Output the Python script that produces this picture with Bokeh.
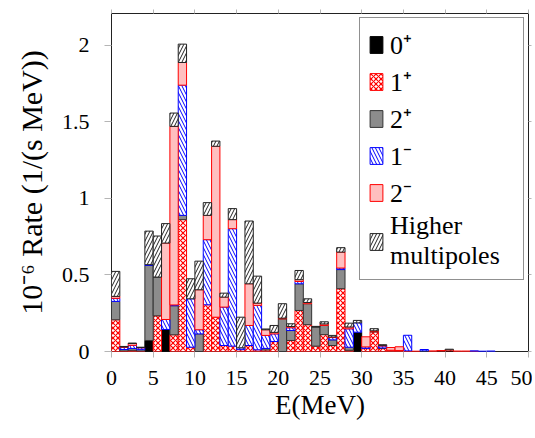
import numpy as np
from bokeh.plotting import figure
from bokeh.models import (Range1d, FixedTicker, LinearAxis, Legend, LegendItem,
                          CustomJSTickFormatter)
from bokeh.embed import file_html
from bokeh.resources import INLINE

# ---------------- data (rate per 1 MeV bin, 10^-6 /(s MeV)) ----------------
bin_left = list(range(0, 50))
rate_0p = [0, 0, 0, 0, 0.072, 0, 0.144, 0, 0, 0,
           0, 0, 0, 0, 0, 0, 0, 0, 0, 0,
           0, 0, 0, 0, 0, 0, 0, 0, 0, 0.126,
           0, 0, 0, 0, 0, 0, 0, 0, 0, 0.002,
           0.003, 0, 0, 0, 0, 0, 0, 0, 0, 0]
rate_1p = [0.207, 0.003, 0.008, 0.002, 0, 0.233, 0, 0.109, 0.861, 0.028,
           0, 0.305, 0.224, 0.039, 0.035, 0.012, 0.039, 0.011, 0.01, 0.065,
           0, 0.072, 0.268, 0.175, 0.035, 0.11, 0.039, 0.41, 0.008, 0,
           0.02, 0.128, 0.02, 0.008, 0.006, 0.004, 0.002, 0, 0.004, 0.004,
           0.008, 0.003, 0.003, 0.001, 0, 0, 0, 0, 0, 0]
rate_2p = [0.12, 0.01, 0.012, 0.01, 0.49, 0.253, 0, 0.19, 0.028, 0,
           0.115, 0, 0, 0, 0, 0, 0, 0, 0.01, 0,
           0.213, 0.065, 0.174, 0.137, 0.125, 0.06, 0.037, 0.125, 0.02, 0,
           0, 0.003, 0.003, 0, 0, 0, 0, 0.004, 0, 0,
           0.004, 0, 0, 0, 0, 0, 0, 0, 0, 0]
rate_1m = [0.02, 0.015, 0.02, 0.012, 0.005, 0, 0.065, 0.005, 0.85, 0.316,
           0.027, 0.425, 0, 0.251, 0.767, 0.012, 0.131, 0.29, 0.085, 0.05,
           0, 0.018, 0.015, 0, 0, 0, 0.015, 0.01, 0.12, 0.061,
           0.01, 0, 0.013, 0, 0, 0.102, 0, 0.009, 0, 0,
           0, 0, 0, 0.003, 0.002, 0.003, 0, 0, 0, 0]
rate_2m = [0.013, 0.002, 0.012, 0.002, 0, 0, 0.499, 1.166, 0.148, 0,
           0.261, 0.159, 1.116, 0.065, 0.059, 0, 0.272, 0.015, 0.037, 0.01,
           0.005, 0.008, 0.012, 0.008, 0, 0.01, 0.004, 0.104, 0.012, 0,
           0.066, 0.004, 0.004, 0.018, 0.025, 0, 0, 0, 0, 0,
           0, 0, 0, 0, 0, 0, 0, 0, 0, 0]
rate_hi = [0.163, 0.003, 0.003, 0.002, 0.219, 0.268, 0.127, 0.087, 0.12, 0.131,
           0.187, 0.083, 0.034, 0.026, 0.072, 0.2, 0.41, 0.176, 0.005, 0.045,
           0.094, 0.018, 0.06, 0.024, 0.004, 0.014, 0.01, 0.029, 0.025, 0.016,
           0, 0.014, 0.004, 0, 0, 0, 0, 0, 0, 0,
           0, 0, 0, 0, 0, 0, 0, 0, 0, 0]

series_labels = ["0\u207a", "1\u207a", "2\u207a", "1\u207b", "2\u207b", "Higher\nmultipoles"]
x_ticks = [0, 5, 10, 15, 20, 25, 30, 35, 40, 45, 50]
y_ticks = [0, 0.5, 1, 1.5, 2]
y_tick_labels = ["0", "0.5", "1", "1.5", "2"]

FONT = "Liberation Serif"

p = figure(width=532, height=430, x_range=Range1d(0, 50), y_range=Range1d(0, 2.207),
           output_backend="svg", toolbar_location=None,
           min_border_left=111, min_border_right=4, min_border_top=13, min_border_bottom=79)
p.xgrid.visible = False
p.ygrid.visible = False
p.outline_line_color = "#222222"
p.outline_line_width = 1
p.background_fill_color = "white"
p.border_fill_color = "white"

styles = [
    dict(fill_color="black", line_color="black"),
    dict(fill_color="white", line_color="red", hatch_pattern="diagonal_cross",
         hatch_color="red", hatch_weight=1.2, hatch_scale=5),
    dict(fill_color="#8c8c8c", line_color="#333333"),
    dict(fill_color="white", line_color="blue", hatch_pattern="left_diagonal_line",
         hatch_color="blue", hatch_weight=1.0, hatch_scale=7),
    dict(fill_color="#ffbfbf", line_color="red"),
    dict(fill_color="white", line_color="#222222", hatch_pattern="right_diagonal_line",
         hatch_color="#222222", hatch_weight=1.0, hatch_scale=7),
]

all_series = [rate_0p, rate_1p, rate_2p, rate_1m, rate_2m, rate_hi]
xc = np.array(bin_left) + 0.5
bottom = np.zeros(len(bin_left))
items = []
for vals, st, lab in zip(all_series, styles, series_labels):
    v = np.array(vals, dtype=float)
    top = bottom + v
    m = v > 0
    r = p.vbar(x=xc[m], width=1.0, bottom=bottom[m], top=top[m], line_width=1, **st)
    items.append(LegendItem(label=lab, renderers=[r]))
    bottom = top

TICK_COLOR = "#b5b5b5"
for ax in p.xaxis:
    ax.ticker = FixedTicker(ticks=x_ticks)
    ax.major_label_text_font = FONT
    ax.major_label_text_font_size = "22px"
    ax.major_label_text_color = "black"
    ax.major_label_standoff = 13
    ax.major_tick_out = 6
    ax.major_tick_in = 0
    ax.minor_tick_line_color = None
    ax.major_tick_line_color = TICK_COLOR
    ax.axis_line_color = None
    ax.axis_label = "E(MeV)"
    ax.axis_label_text_font = FONT
    ax.axis_label_text_font_size = "27px"
    ax.axis_label_text_font_style = "normal"
    ax.axis_label_text_color = "black"
    ax.axis_label_standoff = 2
for ax in p.yaxis:
    ax.ticker = FixedTicker(ticks=y_ticks)
    ax.major_label_overrides = {t: s for t, s in zip(y_ticks, y_tick_labels)}
    ax.major_label_text_font = FONT
    ax.major_label_text_font_size = "22px"
    ax.major_label_text_color = "black"
    ax.major_label_standoff = 15
    ax.major_tick_out = 7
    ax.major_tick_in = 0
    ax.minor_tick_line_color = None
    ax.major_tick_line_color = TICK_COLOR
    ax.axis_line_color = None
    ax.axis_label = "10\u207b\u2076 Rate (1/(s MeV))"
    ax.axis_label_text_font = FONT
    ax.axis_label_text_font_size = "30px"
    ax.axis_label_text_font_style = "normal"
    ax.axis_label_text_color = "black"
    ax.axis_label_standoff = 11

blank = CustomJSTickFormatter(code="return ''")
top_ax = LinearAxis(ticker=FixedTicker(ticks=x_ticks), formatter=blank,
                    major_label_standoff=0, major_tick_out=4, major_tick_in=0,
                    minor_tick_line_color=None, major_tick_line_color=TICK_COLOR,
                    axis_line_color=None)
right_ax = LinearAxis(ticker=FixedTicker(ticks=y_ticks), formatter=blank,
                      major_label_standoff=0, major_tick_out=3, major_tick_in=0,
                      minor_tick_line_color=None, major_tick_line_color=TICK_COLOR,
                      axis_line_color=None)
p.add_layout(top_ax, "above")
p.add_layout(right_ax, "right")

legend = Legend(items=items, location="top_right", margin=4,
                border_line_color="#222222", border_line_width=1,
                background_fill_color="white", background_fill_alpha=1,
                label_text_font=FONT, label_text_font_size="26px",
                label_text_color="black", label_text_line_height=1.0,
                glyph_width=16, glyph_height=21, label_height=21, label_width=125,
                spacing=1, padding=8, label_standoff=6)
p.add_layout(legend)

open("out.html", "w").write(file_html(p, INLINE))
